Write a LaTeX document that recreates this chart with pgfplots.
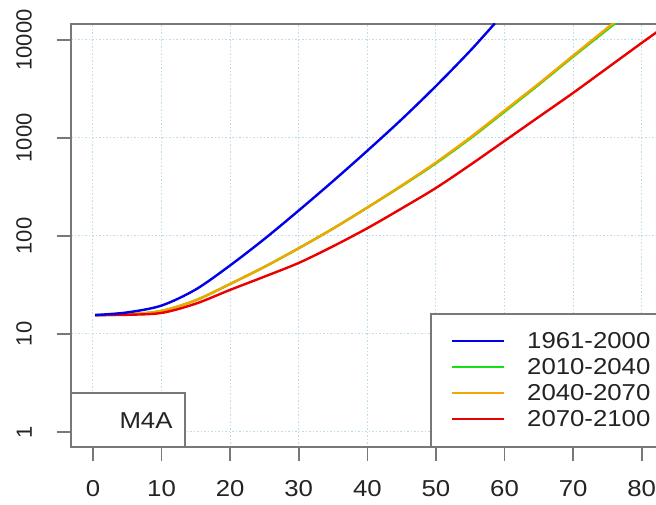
\documentclass[border=0pt]{standalone}
\usepackage{fontspec}
\setmainfont{Liberation Sans}
\usepackage{graphicx}
\usepackage{pgfplots}
\pgfplotsset{compat=1.18}
\definecolor{axgray}{RGB}{120,120,120}
\definecolor{gridblue}{RGB}{190,220,232}
\definecolor{rblue}{RGB}{0,0,235}
\definecolor{rgreen}{RGB}{20,225,20}
\definecolor{rorange}{RGB}{245,165,0}
\definecolor{rred}{RGB}{235,0,0}
\definecolor{txt}{RGB}{35,35,35}
\newcommand{\hfont}{\fontsize{23bp}{26bp}\selectfont}
\newcommand{\hs}[1]{\scalebox{1.12}[1]{#1}}
\begin{document}
\begin{tikzpicture}
\useasboundingbox (0,0) rectangle (656bp,505bp);
\clip (0,0) rectangle (656bp,505bp);
\begin{axis}[
  at={(71bp,58bp)}, anchor=south west,
  scale only axis, width=629bp, height=423bp,
  xmin=-3.2, xmax=88.5,
  ymode=log, ymin=0.703, ymax=14560,
  xtick={0,10,20,30,40,50,60,70,80},
  xticklabels={\hs{0},\hs{10},\hs{20},\hs{30},\hs{40},\hs{50},\hs{60},\hs{70},\hs{80}},
  ytick={1,10,100,1000,10000},
  yticklabels={1,10,100,1000,10000},
  yminorticks=false,
  tick align=outside, major tick length=14bp,
  xtick pos=left, ytick pos=left,
  axis line style={draw=axgray, line width=2bp},
  every tick/.style={draw=axgray, line width=1.6bp},
  grid=major,
  major grid style={draw=gridblue, dash pattern=on 1.5bp off 2bp, line width=1bp},
  xticklabel style={font=\hfont, text=txt, inner sep=0pt, anchor=north, yshift=-19bp},
  yticklabel style={font=\fontsize{22bp}{24bp}\selectfont, text=txt, inner sep=0pt, rotate=90, anchor=south, yshift=25bp},
  /pgf/number format/assume math mode=true,
  every axis plot/.append style={line width=2.4bp, smooth},
]
% 2010-2040
\addplot[rgreen] coordinates {(0.3,15.6)(5,15.85)(10,17.2)(15,22.1)(20,32.4)(25,48.4)(30,75.0)(35,119)(40,195)(45,324)(50,552)(55,989)(60,1854)(65,3508)(70,6761)(76.3,15136)};
% 2040-2070
\addplot[rorange] coordinates {(0.3,15.6)(5,15.85)(10,17.2)(15,22.1)(20,32.4)(25,48.4)(30,75.0)(35,119)(40,195)(45,327)(50,562)(55,1012)(60,1905)(65,3589)(70,6918)(76,15136)};
% 2070-2100
\addplot[rred] coordinates {(0.3,15.6)(5,15.7)(10,16.4)(15,20.4)(20,28.2)(25,38.5)(30,53.1)(35,78.5)(40,120)(45,191)(50,309)(55,531)(60,933)(65,1641)(70,2884)(75,5188)(80,9333)(83,13183)};
% 1961-2000
\addplot[rblue] coordinates {(0.3,15.6)(5,16.6)(10,19.5)(15,28.5)(20,50.1)(25,93.3)(30,182)(35,363)(40,741)(45,1549)(50,3388)(55,7762)(58.6,14791)};
\end{axis}
% M4A label box
\draw[axgray, line width=2bp, fill=white] (71bp,58bp) rectangle (185bp,112bp);
\node[font=\hfont, text=txt, inner sep=0pt] at (146bp,84bp) {\hs{M4A}};
% legend
\draw[axgray, line width=2bp, fill=white] (431bp,58bp) rectangle (700bp,191bp);
\draw[rblue, line width=2.4bp] (452bp,164bp) -- (504bp,164bp);
\draw[rgreen, line width=2.4bp] (452bp,138bp) -- (504bp,138bp);
\draw[rorange, line width=2.4bp] (452bp,112bp) -- (504bp,112bp);
\draw[rred, line width=2.4bp] (452bp,86bp) -- (504bp,86bp);
\node[font=\hfont, text=txt, inner sep=0pt, anchor=west] at (527bp,164bp) {\hs{1961-2000}};
\node[font=\hfont, text=txt, inner sep=0pt, anchor=west] at (527bp,138bp) {\hs{2010-2040}};
\node[font=\hfont, text=txt, inner sep=0pt, anchor=west] at (527bp,112bp) {\hs{2040-2070}};
\node[font=\hfont, text=txt, inner sep=0pt, anchor=west] at (527bp,86bp) {\hs{2070-2100}};
\end{tikzpicture}
\end{document}
